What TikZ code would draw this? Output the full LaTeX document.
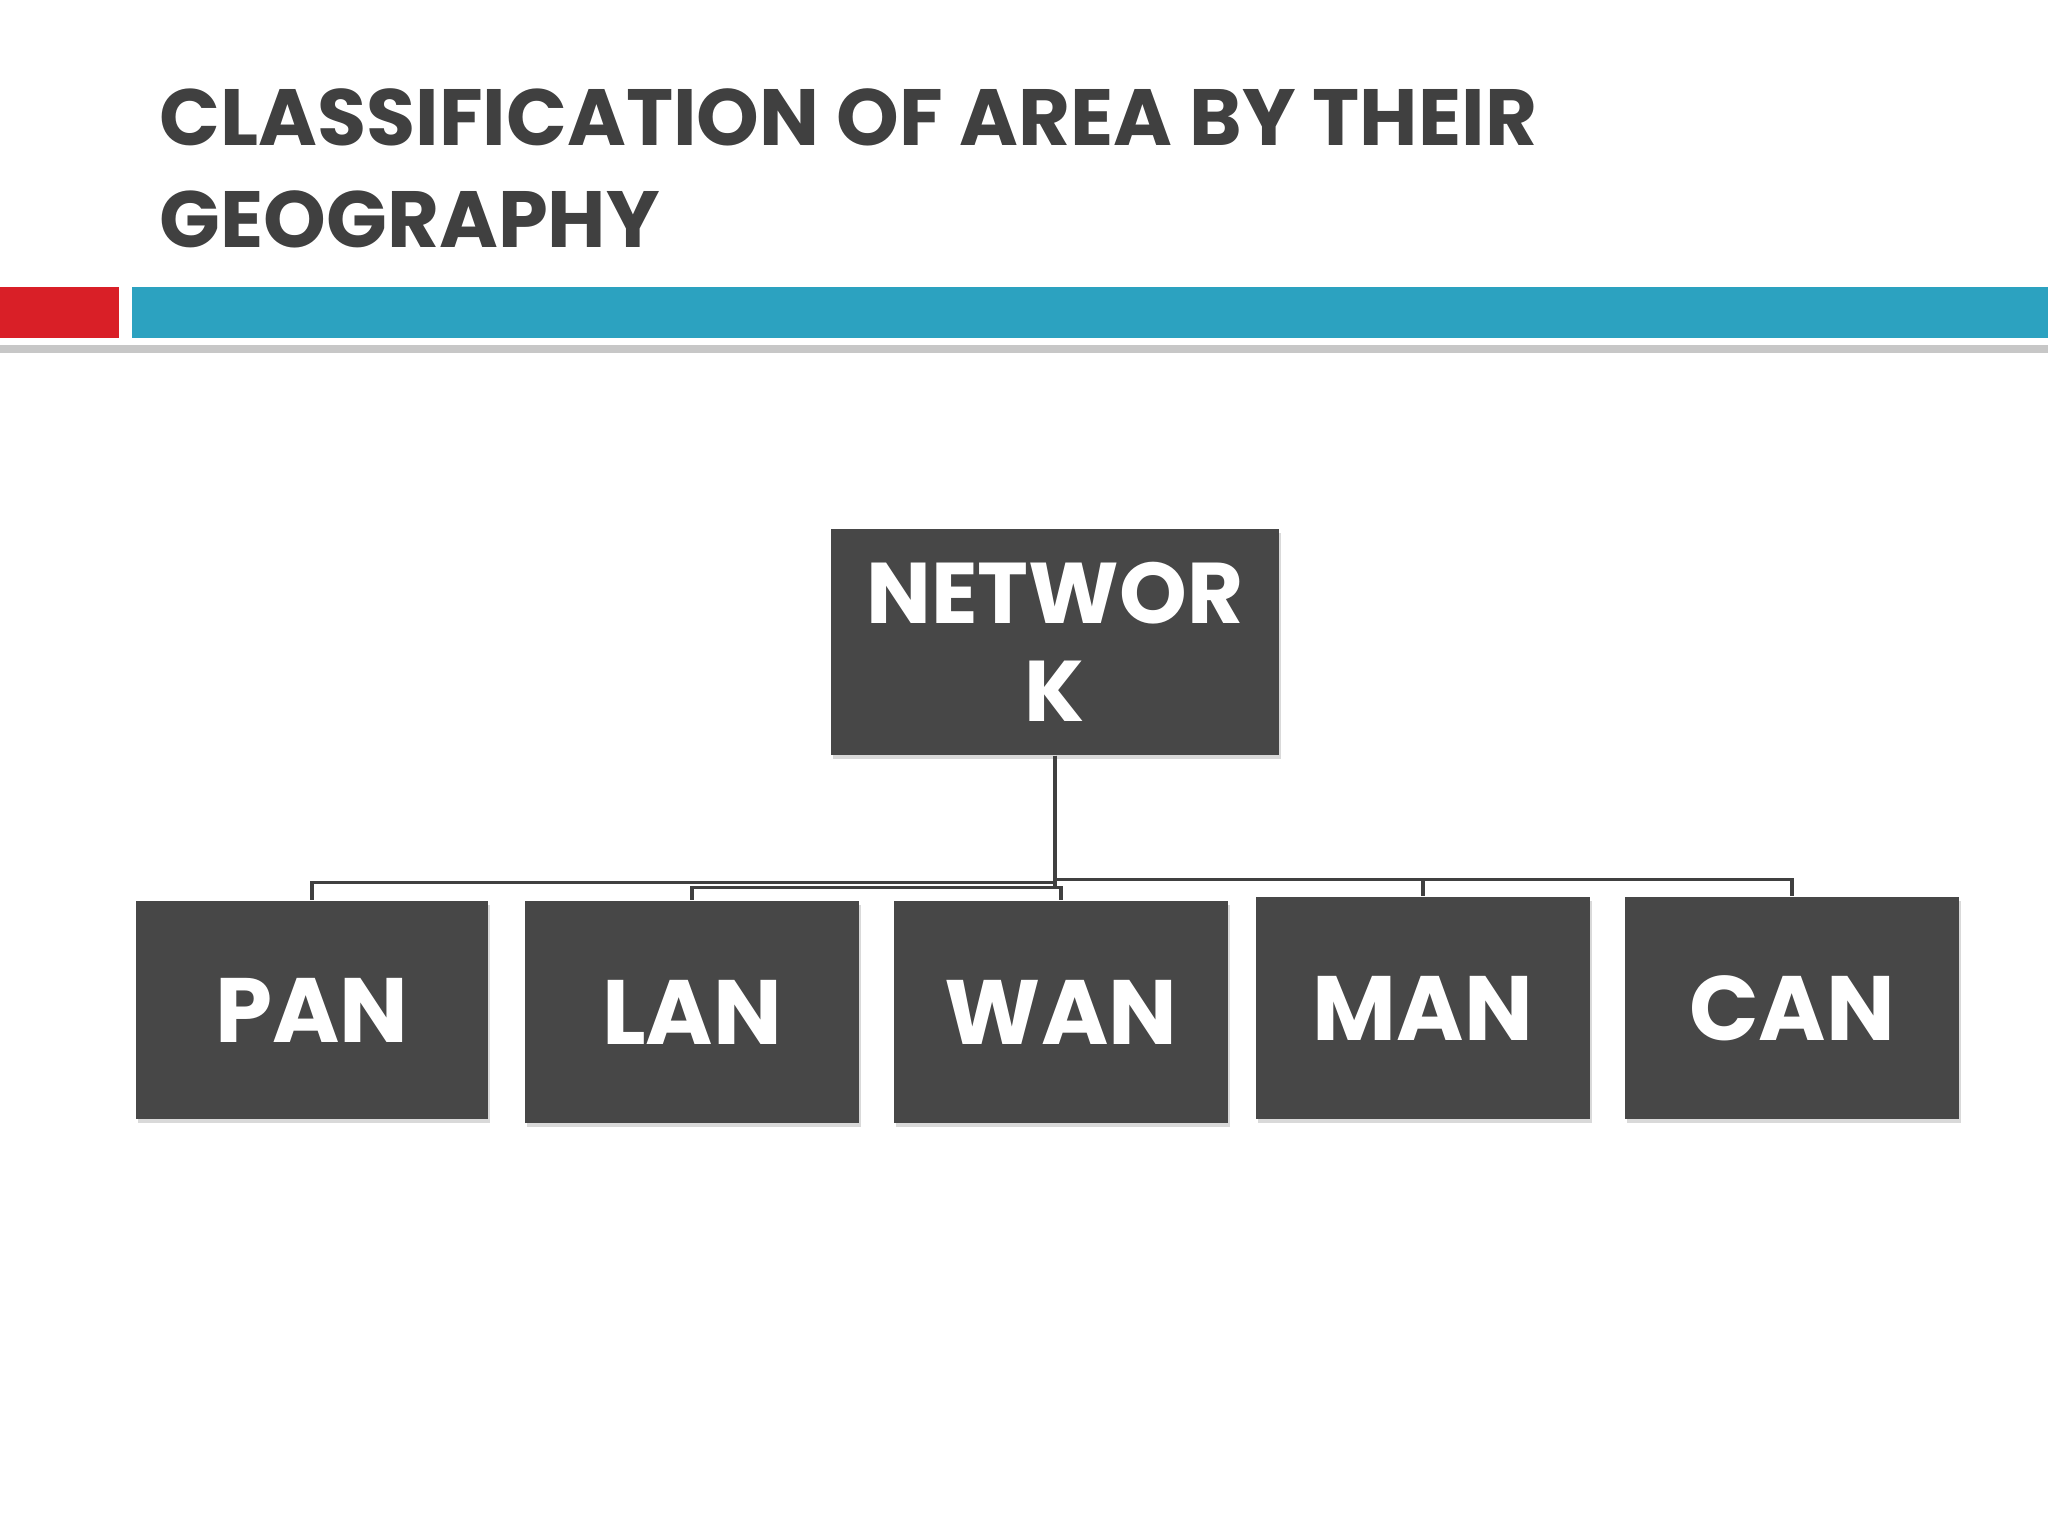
\documentclass[tikz,border=0pt]{standalone}
\usepackage{fontspec}
\setmainfont{Poppins}
\usepackage{xcolor}
\usepackage{tikz}
\usetikzlibrary{positioning,shadows}
\definecolor{boxgray}{HTML}{474747}
\definecolor{titlegray}{HTML}{404040}
\definecolor{barred}{HTML}{D91F27}
\definecolor{barblue}{HTML}{2CA2C0}

\begin{document}
\begin{tikzpicture}[
  x=0.01cm, y=-0.01cm,
  netbox/.style={rectangle, fill=boxgray, text=white, align=center, inner sep=0pt,
    font=\fontsize{26}{33}\selectfont\bfseries,
    drop shadow={opacity=0.3, shadow xshift=0.02cm, shadow yshift=-0.04cm}},
  title/.style={anchor=base west, inner sep=0pt, text=titlegray, font=\fontsize{22.7}{29}\selectfont\bfseries},
  link/.style={draw=boxgray!90!black, line width=0.9pt},
]
  \useasboundingbox (0,0) rectangle (2048,1536);

  % heading and bars
  \node[title] (title1) at (159,145) {CLASSIFICATION OF AREA BY THEIR};
  \node[title] (title2) at (159,247) {GEOGRAPHY};
  \fill[black!22] (0,345) rectangle (2048,353);
  \fill[barred] (0,287) rectangle (119,338);
  \fill[barblue] (132,287) rectangle (2048,338);

  % tree
  \node[netbox, minimum width=4.48cm, minimum height=2.26cm,
    font=\fontsize{24.5}{28}\selectfont\bfseries] (net) at (1055,642) {NETWOR\\K};
  \node[netbox, minimum width=3.51cm, minimum height=2.18cm] (pan) at (312,1010) {PAN};
  \node[netbox, minimum width=3.33cm, minimum height=2.22cm] (lan) at (692,1012) {LAN};
  \node[netbox, minimum width=3.33cm, minimum height=2.22cm] (wan) at (1061,1012) {WAN};
  \node[netbox, minimum width=3.34cm, minimum height=2.22cm] (man) at (1423,1008) {MAN};
  \node[netbox, minimum width=3.34cm, minimum height=2.22cm] (can) at (1792,1008) {CAN};

  \draw[link] (net.south) -- ++(0,127) -| (pan.north);
  \draw[link] (net.south) -- ++(0,132) -| (lan.north);
  \draw[link] (net.south) -- ++(0,132) -| (wan.north);
  \draw[link] (net.south) -- ++(0,124) -| (man.north);
  \draw[link] (net.south) -- ++(0,124) -| (can.north);
\end{tikzpicture}
\end{document}
